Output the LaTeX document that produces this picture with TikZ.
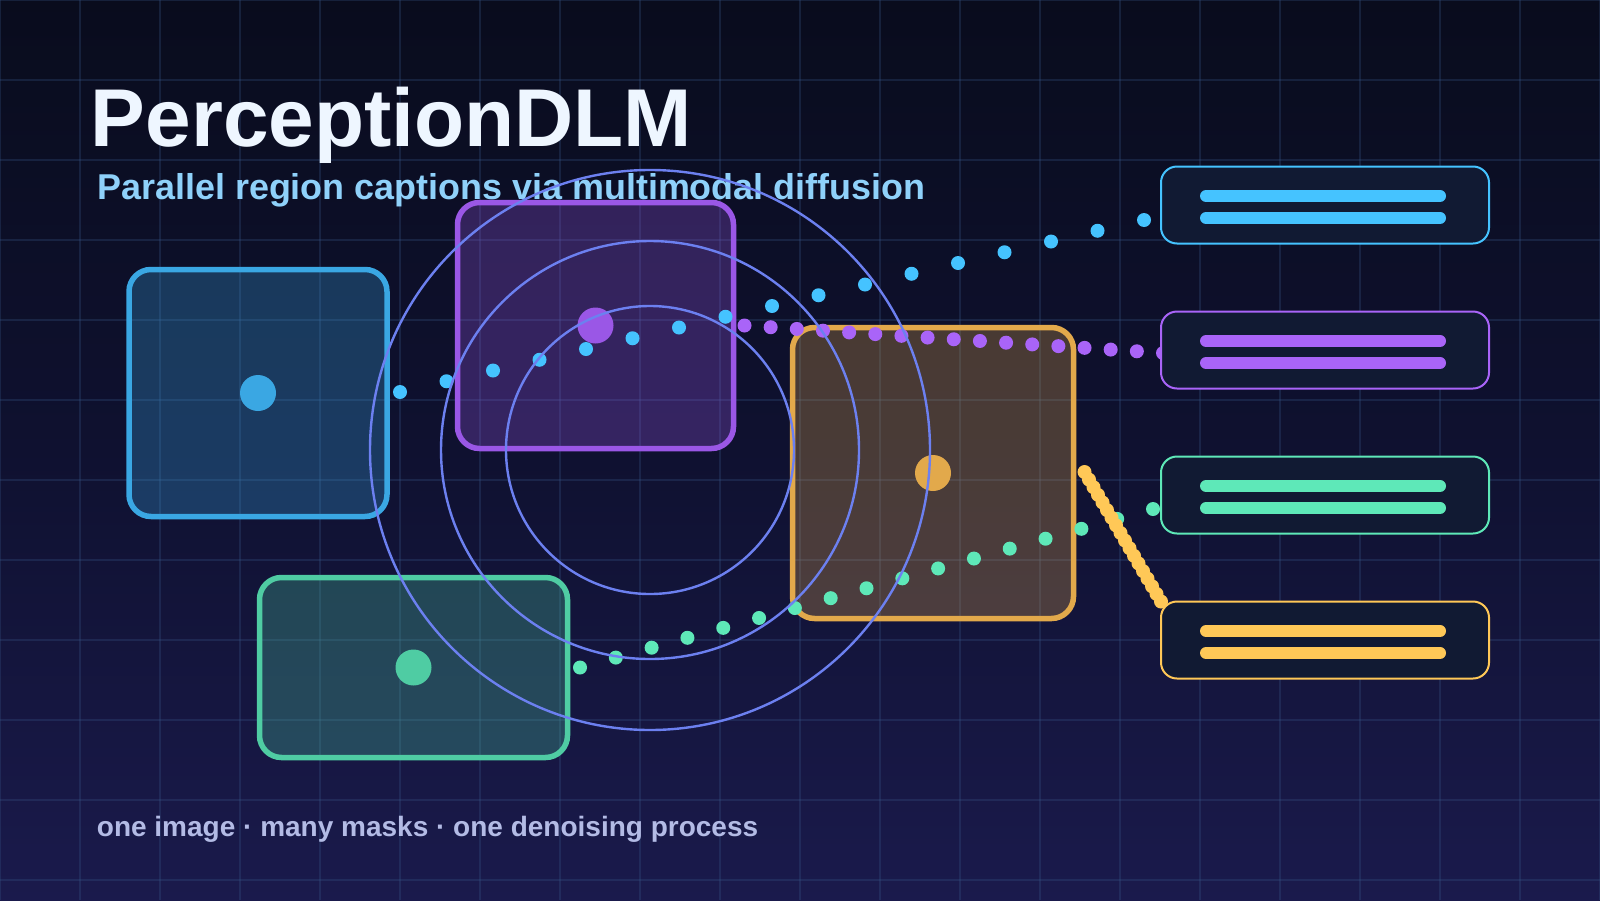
\documentclass[tikz,border=0pt]{standalone}
\usepackage{fontspec}
\setmainfont{Liberation Sans}
\usetikzlibrary{calc}
\definecolor{bgTop}{HTML}{090C1D}
\definecolor{bgMid}{HTML}{0F1130}
\definecolor{bgBot}{HTML}{1A1A4C}
\definecolor{gridC}{HTML}{3A5A8C}
\definecolor{titleC}{HTML}{EEF6FF}
\definecolor{subC}{HTML}{8FD1FA}
\definecolor{footC}{HTML}{B3BBE5}
\definecolor{ringC}{HTML}{6C80F0}
\definecolor{capFill}{HTML}{111A33}
\definecolor{blueR}{HTML}{3AA7E3}
\definecolor{purpleR}{HTML}{9A57E6}
\definecolor{greenR}{HTML}{4FCCA3}
\definecolor{yellowR}{HTML}{E2A94B}
\definecolor{blueT}{HTML}{45C3FF}
\definecolor{purpleT}{HTML}{A964F8}
\definecolor{greenT}{HTML}{5EE8B8}
\definecolor{yellowT}{HTML}{FFC857}
\begin{document}
\begin{tikzpicture}[x=0.5pt,y=-0.5pt,
  region/.style={draw=#1, fill=#1, fill opacity=0.28, rectangle, rounded corners=11pt,
    line width=2.75pt, inner sep=0pt, outer sep=0pt},
  capbox/.style={draw=#1, fill=capFill, rectangle, rounded corners=8pt, line width=1pt,
    minimum width=164pt, minimum height=38.5pt, inner sep=0pt, outer sep=0pt},
  capbar/.style={draw=#1, line width=6pt, line cap=round},
  ring/.style={draw=ringC, line width=1.2pt},
  gridline/.style={draw=gridC, draw opacity=0.27, line width=0.55pt}]
\useasboundingbox (0,0) rectangle (1600,900);
% background
\shade[top color=bgTop, bottom color=bgBot, middle color=bgMid] (0,0) rectangle (1600,900);
\foreach \gx in {0,80,...,1600} \draw[gridline] (\gx,0) -- (\gx,900);
\foreach \gy in {0,80,...,880} \draw[gridline] (0,\gy) -- (1600,\gy);
% texts
\node[anchor=base west, inner sep=0pt, text=titleC, font=\fontsize{41pt}{41pt}\selectfont\bfseries] (title) at (90.5,146) {PerceptionDLM};
\node[anchor=base west, inner sep=0pt, text=subC, font=\fontsize{17.95pt}{17.95pt}\selectfont\bfseries] (subtitle) at (97,199) {Parallel region captions via multimodal diffusion};
\node[anchor=base west, inner sep=0pt, text=footC, font=\fontsize{14pt}{14pt}\selectfont\bfseries] (footer) at (96.5,836) {one image · many masks · one denoising process};
% region boxes
\node[region=blueR, minimum width=129pt, minimum height=123.5pt] (blueBox) at (258,393) {};
\node[region=purpleR, minimum width=138pt, minimum height=123pt] (purpleBox) at (595.5,325.5) {};
\node[region=greenR, minimum width=154pt, minimum height=90pt] (greenBox) at (413.5,667.5) {};
\node[region=yellowR, minimum width=140.5pt, minimum height=145.5pt] (yellowBox) at (933,473) {};
% region centre dots
\fill[blueR] (blueBox.center) circle[radius=9pt];
\fill[purpleR] (purpleBox.center) circle[radius=9pt];
\fill[greenR] (greenBox.center) circle[radius=9pt];
\fill[yellowR] (yellowBox.center) circle[radius=9pt];
% caption box positions
\path (1325,205) node[capbox=blueT, draw=none, fill=none] (cap1) {};
\path (1325,350) node[capbox=purpleT, draw=none, fill=none] (cap2) {};
\path (1325,495) node[capbox=greenT, draw=none, fill=none] (cap3) {};
\path (1325,640) node[capbox=yellowT, draw=none, fill=none] (cap4) {};
% trajectories
\coordinate (bS) at ($(blueBox.east)+(13,-1)$);
\coordinate (bE) at ($(cap1.west)+(-17,15)$);
\coordinate (pS) at ($(purpleBox.east)+(11,0)$);
\coordinate (pE) at ($(cap2.west)+(2,3)$);
\coordinate (gS) at ($(greenBox.east)+(12.5,0)$);
\coordinate (gE) at ($(cap3.west)+(-8,14)$);
\coordinate (yS) at ($(yellowBox.east)+(11,-1)$);
\coordinate (yE) at (cap4.north west);
\foreach \k in {0,...,16} \fill[blueT] ($(bS)!\k/16!(bE)$) circle[radius=3.5pt];
\foreach \k in {0,...,16} \fill[purpleT] ($(pS)!\k/16!(pE)$) circle[radius=3.5pt];
\foreach \k in {0,...,16} \fill[greenT] ($(gS)!\k/16!(gE)$) circle[radius=3.5pt];
\foreach \k in {0,...,17} \fill[yellowT] ($(yS)!\k/17!(yE)$) circle[radius=3.5pt];
% rings
\coordinate (core) at (650,450);
\draw[ring] (core) circle[radius=72pt];
\draw[ring] (core) circle[radius=104.5pt];
\draw[ring] (core) circle[radius=140pt];
% caption boxes
\node[capbox=blueT] (c1) at (cap1) {};
\node[capbox=purpleT] (c2) at (cap2) {};
\node[capbox=greenT] (c3) at (cap3) {};
\node[capbox=yellowT] (c4) at (cap4) {};
\foreach \c/\col in {c1/blueT, c2/purpleT, c3/greenT, c4/yellowT}{
  \draw[capbar=\col] ($(\c.center)+(-119,-9)$) -- ($(\c.center)+(115,-9)$);
  \draw[capbar=\col] ($(\c.center)+(-119,13)$) -- ($(\c.center)+(115,13)$);
}
\end{tikzpicture}
\end{document}
